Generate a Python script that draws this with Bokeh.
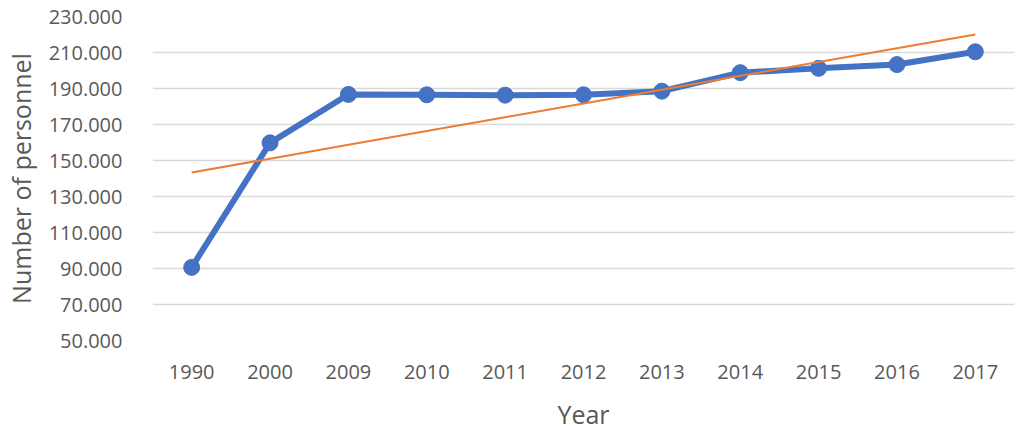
import numpy as np
from bokeh.plotting import figure
from bokeh.models import FactorRange, Range1d, FixedTicker, CustomJSTickFormatter
from bokeh.embed import file_html
from bokeh.resources import INLINE

years = ["1990", "2000", "2009", "2010", "2011", "2012", "2013", "2014", "2015", "2016", "2017"]
personnel = [90600, 159800, 186700, 186500, 186300, 186500, 188500, 198800, 201200, 203300, 210400]
y_ticks = [50000, 70000, 90000, 110000, 130000, 150000, 170000, 190000, 210000, 230000]

# linear trend line (least squares over category index)
idx = np.arange(len(years))
slope, intercept = np.polyfit(idx, personnel, 1)
trend = [float(slope * i + intercept) for i in idx]

TEXT = "#595959"
FONT = "Open Sans"

p = figure(x_range=FactorRange(*years), y_range=Range1d(50000, 230000),
           width=1017, height=433, output_backend="svg", toolbar_location=None,
           min_border_left=152, min_border_right=3, min_border_top=16, min_border_bottom=92)

p.outline_line_color = None
p.background_fill_color = "white"
p.border_fill_color = "white"

p.xgrid.grid_line_color = None
p.ygrid.ticker = FixedTicker(ticks=y_ticks)
p.ygrid.grid_line_color = "#D9D9D9"
p.ygrid.grid_line_width = 1.5

p.yaxis.ticker = FixedTicker(ticks=y_ticks)
p.yaxis.formatter = CustomJSTickFormatter(code="""
return Math.round(tick).toString().replace(/\\B(?=(\\d{3})+(?!\\d))/g, ".");
""")

for ax in (p.xaxis, p.yaxis):
    ax.axis_line_color = None
    ax.major_tick_line_color = None
    ax.minor_tick_line_color = None
    ax.major_label_text_font = FONT
    ax.major_label_text_font_size = "20px"
    ax.major_label_text_color = TEXT
    ax.axis_label_text_font = FONT
    ax.axis_label_text_font_size = "25px"
    ax.axis_label_text_color = TEXT
    ax.axis_label_text_font_style = "normal"

p.yaxis.axis_label = "Number of personnel"
p.yaxis.major_label_standoff = 24
p.yaxis.axis_label_standoff = 8
p.xaxis.axis_label = "Year"
p.xaxis.major_label_standoff = 18
p.xaxis.axis_label_standoff = 15

p.line(years, personnel, line_color="#4472C4", line_width=6)
p.scatter(years, personnel, size=16, fill_color="#4472C4", line_color="#4472C4")
p.line(years, trend, line_color="#ED7D31", line_width=2)

open("out.html", "w").write(file_html(p, INLINE))
